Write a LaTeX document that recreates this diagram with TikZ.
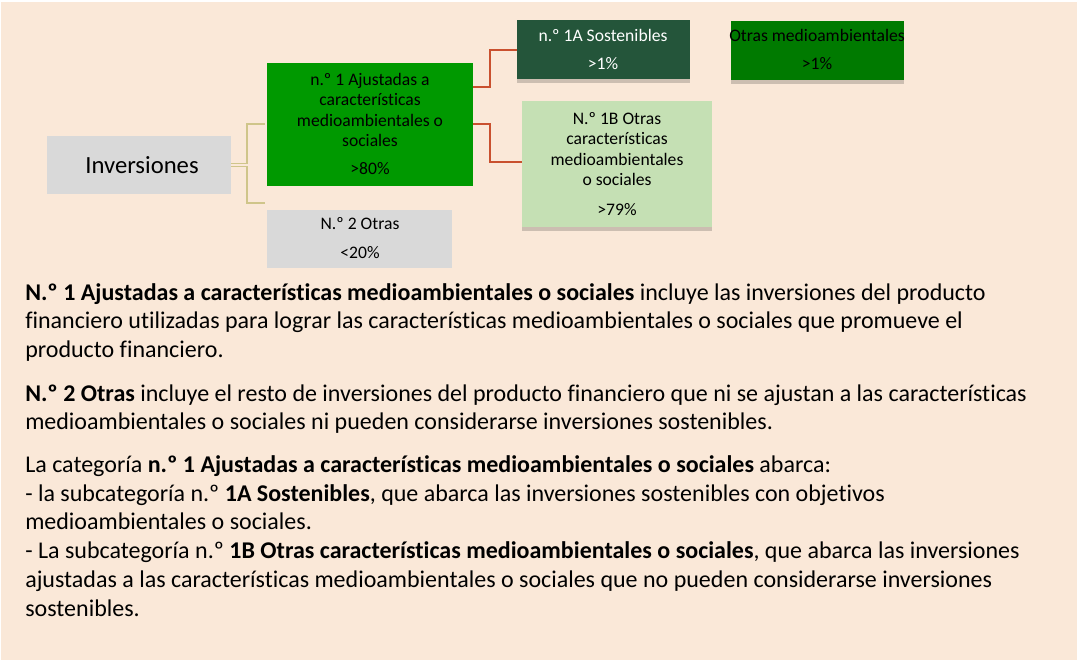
\documentclass[tikz,border=0pt]{standalone}
\usepackage{fontspec}
\setmainfont[Ligatures=NoCommon]{Carlito}
\usetikzlibrary{shadows}
\definecolor{bgpeach}{HTML}{FAE8D8}
\definecolor{boxgray}{HTML}{D9D9D9}
\definecolor{greenA}{HTML}{009900}
\definecolor{darkgreen}{HTML}{24553A}
\definecolor{midgreen}{HTML}{007A00}
\definecolor{lightgreen}{HTML}{C5E0B4}
\definecolor{olive}{HTML}{CFC58A}
\definecolor{redline}{HTML}{C9502E}
\tikzset{
  sh/.style={drop shadow={shadow xshift=0pt, shadow yshift=-3pt, fill=black, opacity=0.18}},
  lbl/.style={font=\fontsize{13.2pt}{15.2pt}\selectfont, align=center, inner sep=0pt},
  body/.style={anchor=base west, inner sep=0pt, font=\fontsize{18pt}{20pt}\selectfont},
  oline/.style={draw=olive, line width=1.2pt},
  rline/.style={draw=redline, line width=1.4pt},
}
\begin{document}
\begin{tikzpicture}[x=0.75pt,y=-0.75pt]
\useasboundingbox (0,0) rectangle (1077,660);
\fill[white] (0,0) rectangle (1077,660);
\fill[bgpeach] (1,2) rectangle (1077,660);

% boxes
\fill[boxgray] (47,136) rectangle (231,194);
\node[font=\fontsize{18.5pt}{20pt}\selectfont, inner sep=0pt] (inv) at (142,165) {Inversiones};

\fill[greenA] (267,63) rectangle (473,186);
\node[lbl] (n1) at (370,110) {n.º 1 Ajustadas a\\características\\medioambientales o\\sociales};
\node[lbl] (n1p) at (370,169) {>80\%};

\fill[boxgray] (267,210) rectangle (452,268);
\node[lbl] (n2) at (360,224) {N.º 2 Otras};
\node[lbl] (n2p) at (360,253) {<20\%};

\fill[darkgreen, sh] (517,20) rectangle (690,79);
\node[lbl, text=white] (n1a) at (603,35) {n.º 1A Sostenibles};
\node[lbl, text=white] (n1ap) at (603,64) {>1\%};

\fill[midgreen, sh] (731,21) rectangle (904,80);
\node[lbl] (om) at (817,35) {Otras medioambientales};
\node[lbl] (omp) at (817,64) {>1\%};

\fill[lightgreen, sh] (522,101) rectangle (712,227);
\node[lbl] (n1b) at (617,149) {N.º 1B Otras\\características\\medioambientales\\o sociales};
\node[lbl] (n1bp) at (617,210) {>79\%};

% olive bracket
\coordinate (b1) at (265,124);
\coordinate (b2) at (265,203);
\draw[oline] (231,163.5) -- (247,163.5) |- (b1);
\draw[oline] (231,166.5) -- (247,166.5) |- (b2);

% red connectors
\coordinate (r1s) at (473,87);
\coordinate (r1e) at (517,50);
\coordinate (r2s) at (473,124);
\coordinate (r2e) at (522,162);
\draw[rline] (r1s) -| (490,50) -- (r1e);
\draw[rline] (r2s) -| (490,162) -- (r2e);

% body text
\node[body] (t1) at (25,300) {\textbf{N.º 1 Ajustadas a características medioambientales o sociales} incluye las inversiones del producto};
\node[body] (t2) at (25,328.7) {financiero utilizadas para lograr las características medioambientales o sociales que promueve el};
\node[body] (t3) at (25,357.4) {producto financiero.};
\node[body] (t4) at (25,401) {\textbf{N.º 2 Otras} incluye el resto de inversiones del producto financiero que ni se ajustan a las características};
\node[body] (t5) at (25,429.7) {medioambientales o sociales ni pueden considerarse inversiones sostenibles.};
\node[body] (t6) at (25,472.5) {La categoría \textbf{n.º 1 Ajustadas a características medioambientales o sociales} abarca:};
\node[body] (t7) at (25,501.2) {- la subcategoría n.º \textbf{1A Sostenibles}, que abarca las inversiones sostenibles con objetivos};
\node[body] (t8) at (25,529.9) {medioambientales o sociales.};
\node[body] (t9) at (25,558.6) {- La subcategoría n.º \textbf{1B Otras características medioambientales o sociales}, que abarca las inversiones};
\node[body] (t10) at (25,587.3) {ajustadas a las características medioambientales o sociales que no pueden considerarse inversiones};
\node[body] (t11) at (25,616) {sostenibles.};
\end{tikzpicture}
\end{document}
